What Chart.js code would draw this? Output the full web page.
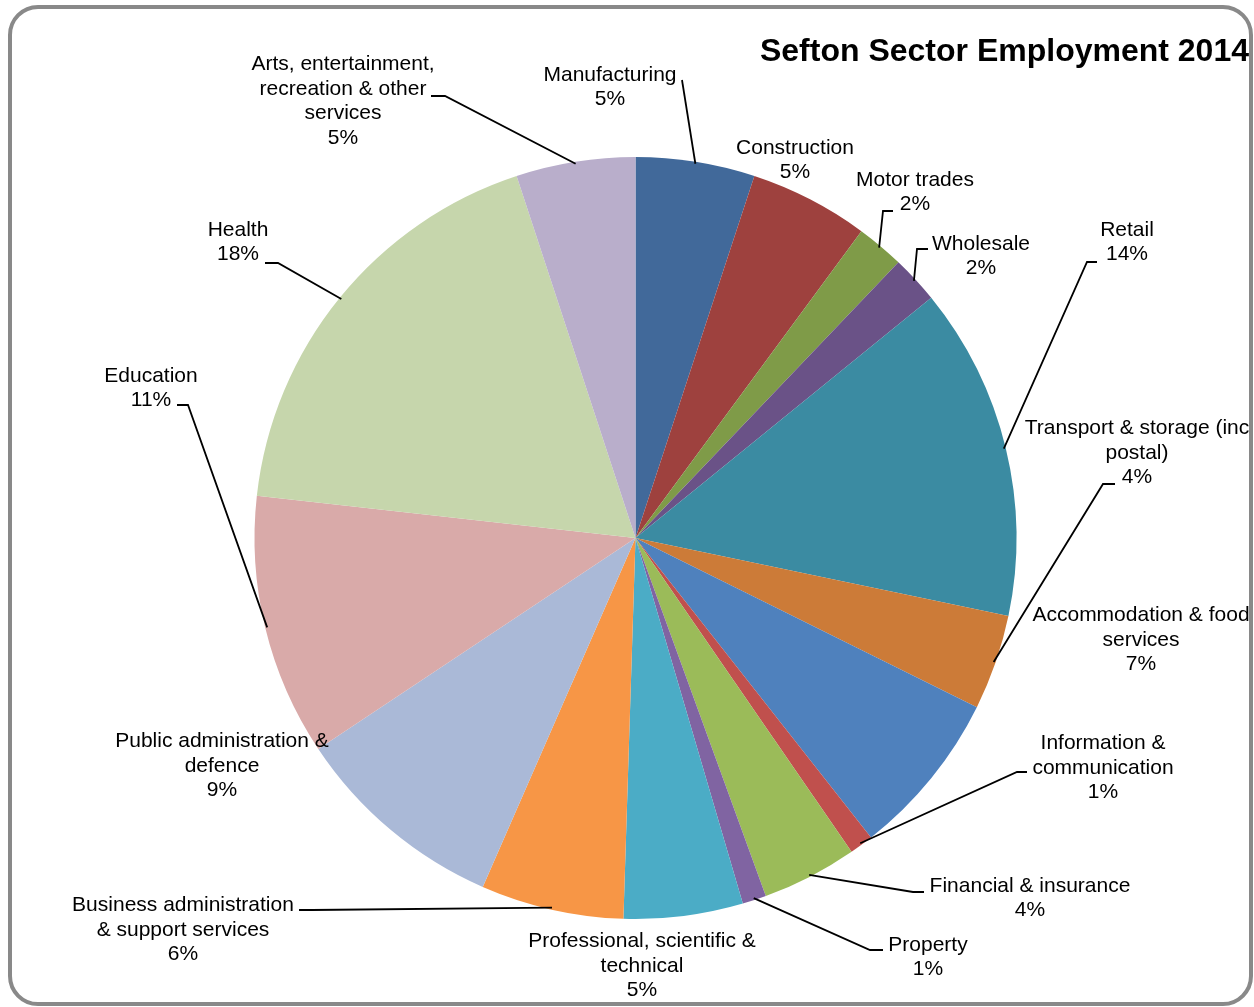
<!DOCTYPE html>
<html>
<head>
<meta charset="utf-8">
<title>Sefton Sector Employment 2014</title>
<script src="https://cdn.jsdelivr.net/npm/chart.js"></script>
<style>
    html, body { margin: 0; padding: 0; background: #fff; }
    #wrap { width: 1254px; height: 1007px; }
</style>
</head>
<body>
<div id="wrap">
    <canvas id="sectorPie" width="1254" height="1007"></canvas>
</div>

<script>
const sectors = [
    "Manufacturing",
    "Construction",
    "Motor trades",
    "Wholesale",
    "Retail",
    "Transport & storage (inc postal)",
    "Accommodation & food services",
    "Information & communication",
    "Financial & insurance",
    "Property",
    "Professional, scientific & technical",
    "Business administration & support services",
    "Public administration & defence",
    "Education",
    "Health",
    "Arts, entertainment, recreation & other services"
];

// share of employment, percent
const shares = [5, 5, 2, 2, 14, 4, 7, 1, 4, 1, 5, 6, 9, 11, 18, 5];

const sliceColors = [
    "#41699A", "#9E413E", "#7F9B48", "#6A5287", "#3B8BA2", "#CC7B38",
    "#4F81BD", "#C0504D", "#9BBB59", "#8064A2", "#4BACC6", "#F79646",
    "#AAB9D7", "#D9AAA9", "#C6D6AC", "#B9AECB"
];

// label placement: centre of text block, wrap width, leader elbow and stub length
const labelSpots = [
    { x: 610,  y: 87,  wrap: 150, elbow: [682, 80],   stub: 0 },
    { x: 795,  y: 160, wrap: 140, elbow: null },
    { x: 915,  y: 192, wrap: 140, elbow: [883, 211],  stub: 10 },
    { x: 981,  y: 256, wrap: 120, elbow: [917, 249],  stub: 11 },
    { x: 1127, y: 242, wrap: 100, elbow: [1087, 262], stub: 10 },
    { x: 1137, y: 453, wrap: 240, elbow: [1103, 484], stub: 12 },
    { x: 1141, y: 640, wrap: 235, elbow: null },
    { x: 1103, y: 768, wrap: 150, elbow: [1017, 772], stub: 10 },
    { x: 1030, y: 898, wrap: 220, elbow: [913, 892],  stub: 11 },
    { x: 928,  y: 957, wrap: 120, elbow: [870, 950],  stub: 13 },
    { x: 642,  y: 966, wrap: 240, elbow: null },
    { x: 183,  y: 930, wrap: 230, elbow: [312, 910],  stub: -13 },
    { x: 222,  y: 766, wrap: 225, elbow: null },
    { x: 151,  y: 388, wrap: 100, elbow: [188, 405],  stub: -11 },
    { x: 238,  y: 242, wrap: 80,  elbow: [278, 263],  stub: -13 },
    { x: 343,  y: 101, wrap: 195, elbow: [445, 96],   stub: -14 }
];

const FONT = '"Liberation Sans", Arial, sans-serif';

function wrapWords(ctx, text, maxW) {
    const words = text.split(" ");
    const lines = [];
    let cur = "";
    words.forEach(w => {
        const test = cur ? cur + " " + w : w;
        if (cur && ctx.measureText(test).width > maxW) {
            lines.push(cur);
            cur = w;
        } else {
            cur = test;
        }
    });
    if (cur) lines.push(cur);
    return lines;
}

function framePath(ctx, x, y, w, h, r) {
    ctx.beginPath();
    ctx.moveTo(x + r, y);
    ctx.arcTo(x + w, y, x + w, y + h, r);
    ctx.arcTo(x + w, y + h, x, y + h, r);
    ctx.arcTo(x, y + h, x, y, r);
    ctx.arcTo(x, y, x + w, y, r);
    ctx.closePath();
}

const decorPlugin = {
    id: "sectorDecor",
    afterDraw(chart) {
        const ctx = chart.ctx;
        const arcs = chart.getDatasetMeta(0).data;
        ctx.save();

        // rounded frame
        ctx.strokeStyle = "#898989";
        ctx.lineWidth = 4;
        framePath(ctx, 10, 7, 1241, 997, 28);
        ctx.stroke();

        // title
        ctx.fillStyle = "#000";
        ctx.font = "bold 32px " + FONT;
        ctx.textAlign = "right";
        ctx.textBaseline = "alphabetic";
        ctx.fillText("Sefton Sector Employment 2014", 1249, 61);

        // leader lines
        ctx.strokeStyle = "#000";
        ctx.lineWidth = 1.8;
        arcs.forEach((arc, i) => {
            const spot = labelSpots[i];
            if (!spot.elbow) return;
            const p = arc.getProps(["x", "y", "startAngle", "endAngle", "outerRadius"], true);
            const mid = (p.startAngle + p.endAngle) / 2;
            const r = p.outerRadius - 2;
            const ex = p.x + Math.cos(mid) * r;
            const ey = p.y + Math.sin(mid) * r;
            ctx.beginPath();
            ctx.moveTo(ex, ey);
            ctx.lineTo(spot.elbow[0], spot.elbow[1]);
            if (spot.stub) ctx.lineTo(spot.elbow[0] + spot.stub, spot.elbow[1]);
            ctx.stroke();
        });

        // data labels
        ctx.font = "21px " + FONT;
        ctx.textAlign = "center";
        ctx.textBaseline = "middle";
        ctx.fillStyle = "#000";
        const lh = 24.5;
        sectors.forEach((name, i) => {
            const spot = labelSpots[i];
            const lines = wrapWords(ctx, name, spot.wrap);
            lines.push(shares[i] + "%");
            const top = spot.y - (lines.length - 1) * lh / 2;
            lines.forEach((ln, k) => ctx.fillText(ln, spot.x, top + k * lh));
        });

        ctx.restore();
    }
};

new Chart(document.getElementById("sectorPie"), {
    type: "pie",
    data: {
        labels: sectors,
        datasets: [{
            data: shares,
            backgroundColor: sliceColors,
            borderWidth: 0
        }]
    },
    options: {
        responsive: false,
        animation: false,
        layout: { padding: { left: 254, right: 237, top: 157, bottom: 88 } },
        plugins: {
            legend: { display: false },
            tooltip: { enabled: false },
            title: { display: false }
        }
    },
    plugins: [decorPlugin]
});
</script>
</body>
</html>
